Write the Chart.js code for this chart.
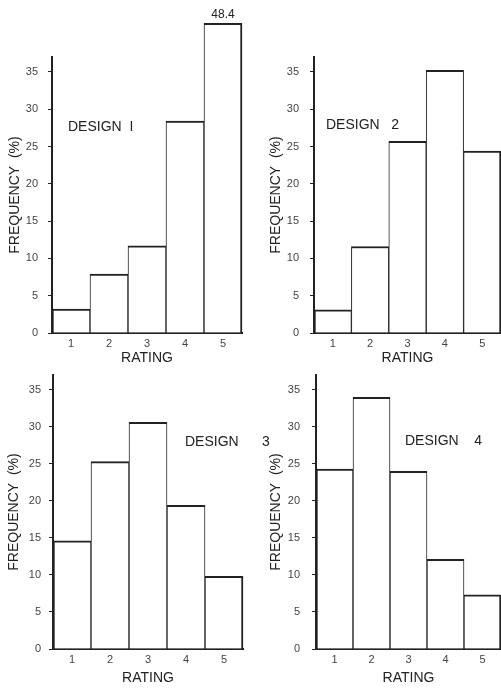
<!DOCTYPE html>
<html>
<head>
<meta charset="utf-8">
<script src="https://cdn.jsdelivr.net/npm/chart.js@4/dist/chart.umd.min.js"></script>
<style>
  body { margin: 0; background: #fff; }
  #page { position: relative; width: 501px; height: 688px; overflow: hidden; background: #fff; }
  #page canvas { position: absolute; }
</style>
</head>
<body>
<div id="page">
  <canvas id="c1" width="250" height="368" style="left:0;top:0"></canvas>
  <canvas id="c2" width="260" height="368" style="left:250px;top:0"></canvas>
  <canvas id="c3" width="275" height="344" style="left:0;top:344px"></canvas>
  <canvas id="c4" width="260" height="344" style="left:250px;top:344px"></canvas>
</div>
<script>
const ratings = ['1', '2', '3', '4', '5'];
const design1 = [3.2, 7.9, 11.7, 28.4, 48.4];
const design2 = [3.1, 11.6, 25.7, 35.2, 24.4];
const design3 = [14.6, 25.3, 30.6, 19.4, 9.8];
const design4 = [24.3, 34.0, 24.0, 12.1, 7.3];
const designNames = ['DESIGN  I', 'DESIGN   2', 'DESIGN      3', 'DESIGN    4'];

const yMax = 37;      // top of the drawn y axis
const yStep = 5;
const breakAt = 41.5; // off-scale bars are cut here, value written above

const ink = '#222';
const font = 'Liberation Sans, Arial, sans-serif';

// layout of each panel (pixels), kept apart from the data
const panels = [
  { id: 'c1', data: design1, name: designNames[0], axisW: 52, padTop: 57, padRight: 8, xAxisH: 35, tickPad: 10, titlePad: 7, labelDx: 16, labelY: 27.6 },
  { id: 'c2', data: design2, name: designNames[1], axisW: 64, padTop: 57, padRight: 9, xAxisH: 35, tickPad: 11, titlePad: 18, labelDx: 12, labelY: 27.9 },
  { id: 'c3', data: design3, name: designNames[2], axisW: 53, padTop: 31, padRight: 32, xAxisH: 39, tickPad: 8, titlePad: 6, labelDx: 132, labelY: 28.0 },
  { id: 'c4', data: design4, name: designNames[3], axisW: 66, padTop: 31, padRight: 9, xAxisH: 39, tickPad: 12, titlePad: 18, labelDx: 89, labelY: 28.1 },
];

const designLabel = {
  id: 'designLabel',
  afterDatasetsDraw(chart, args, opts) {
    const ctx = chart.ctx;
    const area = chart.chartArea;
    const y = chart.scales.y.getPixelForValue(opts.y);
    ctx.save();
    ctx.fillStyle = ink;
    ctx.font = '14px ' + font;
    ctx.textBaseline = 'middle';
    ctx.textAlign = 'left';
    ctx.fillText(opts.text, area.left + opts.dx, y);

    // values beyond the axis are written on top of the cut bar
    const raw = opts.values;
    const meta = chart.getDatasetMeta(0);
    ctx.font = '12px ' + font;
    ctx.textAlign = 'center';
    ctx.textBaseline = 'bottom';
    raw.forEach((v, i) => {
      if (v > yMax) {
        const bar = meta.data[i];
        ctx.fillText(v.toFixed(1), bar.x, bar.y - 3);
      }
    });
    ctx.restore();
  }
};

function makeChart(p) {
  const drawn = p.data.map((v) => Math.min(v, breakAt));
  const last = p.data.length - 1;

  new Chart(document.getElementById(p.id), {
    type: 'bar',
    data: {
      labels: ratings,
      datasets: [{
        data: drawn,
        backgroundColor: '#fff',
        borderColor: ink,
        borderWidth: (c) => ({ top: 2, left: c.dataIndex === 0 ? 2 : 1, right: c.dataIndex === last ? 2 : 1, bottom: 0 }),
        borderSkipped: 'bottom',
        categoryPercentage: 1,
        barPercentage: 1,
        clip: false,
      }],
    },
    plugins: [designLabel],
    options: {
      responsive: false,
      animation: false,
      layout: { padding: { top: p.padTop, right: p.padRight, left: 0, bottom: 0 } },
      plugins: {
        legend: { display: false },
        tooltip: { enabled: false },
        designLabel: { text: p.name, dx: p.labelDx, y: p.labelY, values: p.data },
      },
      scales: {
        x: {
          grid: { display: false, drawTicks: false },
          border: { display: true, color: ink, width: 2 },
          ticks: { color: '#444', font: { family: font, size: 11 }, padding: 4 },
          title: {
            display: true,
            text: 'RATING',
            color: ink,
            font: { family: font, size: 14 },
            padding: { top: 0, bottom: 1 },
          },
          afterFit: (s) => { s.height = p.xAxisH; },
        },
        y: {
          min: 0,
          max: yMax,
          grid: { drawOnChartArea: false, drawTicks: true, tickLength: 4, color: ink },
          border: { display: true, color: ink, width: 2 },
          ticks: {
            stepSize: yStep,
            includeBounds: false,
            color: '#444',
            padding: p.tickPad,
            font: { family: font, size: 11 },
          },
          title: {
            display: true,
            text: 'FREQUENCY  (%)',
            color: ink,
            font: { family: font, size: 14 },
            padding: { top: p.titlePad, bottom: 0 },
          },
          afterFit: (s) => { s.width = p.axisW; },
        },
      },
    },
  });
}

panels.forEach(makeChart);
</script>
</body>
</html>
